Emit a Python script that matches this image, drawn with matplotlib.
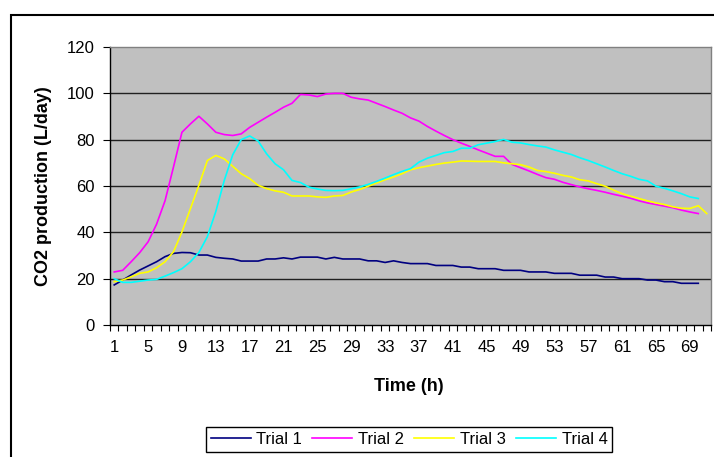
import numpy as np
import matplotlib
matplotlib.use("Agg")
import matplotlib.pyplot as plt
from matplotlib.patches import Rectangle

# CO2 production per trial (L/day), one value per hour
trial1 = [17.3, 19.4, 21.6, 23.7, 25.5, 27.3, 29.5, 30.9, 31.3, 31.2,
          30.2, 30.2, 29.2, 28.8, 28.5, 27.6, 27.6, 27.6, 28.5, 28.5,
          29.0, 28.5, 29.3, 29.3, 29.3, 28.5, 29.2, 28.5, 28.5, 28.5,
          27.7, 27.7, 27.0, 27.7, 27.0, 26.5, 26.5, 26.5, 25.7, 25.7,
          25.7, 25.0, 25.0, 24.3, 24.3, 24.3, 23.6, 23.6, 23.6, 22.9,
          22.9, 22.9, 22.3, 22.3, 22.3, 21.5, 21.5, 21.5, 20.7, 20.7,
          20.0, 20.0, 20.0, 19.4, 19.4, 18.7, 18.7, 18.0, 18.0, 18.0]
trial2 = [22.9, 23.6, 27.3, 31.2, 35.9, 43.5, 53.6, 68.2, 83.2, 86.8,
          90.1, 86.8, 83.2, 82.2, 81.8, 82.5, 85.3, 87.5, 89.7, 91.8,
          94.0, 95.7, 99.5, 99.3, 98.6, 99.7, 100.0, 100.0, 98.3, 97.6,
          97.1, 95.7, 94.3, 92.8, 91.4, 89.4, 88.0, 85.7, 83.7, 81.8,
          80.0, 78.5, 77.1, 75.6, 74.2, 72.8, 72.8, 69.3, 67.9, 66.5,
          65.0, 63.6, 62.9, 61.6, 60.6, 59.6, 58.8, 58.1, 57.3, 56.4,
          55.6, 54.7, 53.6, 52.7, 52.0, 51.3, 50.6, 49.6, 48.8, 48.1]
trial3 = [18.7, 19.4, 20.8, 22.3, 22.9, 24.7, 27.3, 31.6, 40.2, 50.2,
          60.3, 71.0, 73.2, 71.7, 68.5, 65.3, 63.2, 60.3, 58.9, 57.9,
          57.3, 55.7, 55.7, 55.7, 55.3, 55.1, 55.7, 55.9, 57.4, 58.5,
          59.9, 61.3, 62.7, 63.9, 65.3, 67.0, 67.9, 68.6, 69.3, 69.9,
          70.3, 70.8, 70.7, 70.6, 70.6, 70.6, 70.0, 69.6, 69.2, 68.2,
          66.7, 66.2, 65.5, 64.6, 63.9, 62.7, 62.2, 61.0, 59.9, 58.2,
          56.7, 55.6, 54.6, 53.6, 52.7, 52.0, 51.0, 50.4, 50.3, 51.5,
          48.1]
trial4 = [20.0, 18.4, 18.4, 18.9, 19.4, 19.7, 21.1, 22.6, 24.3, 27.3,
          31.3, 38.1, 49.0, 62.4, 73.5, 80.0, 81.6, 79.4, 73.9, 69.6,
          67.0, 62.4, 61.5, 59.5, 58.7, 58.1, 58.0, 58.1, 58.8, 59.6,
          60.7, 62.0, 63.4, 64.9, 66.3, 67.5, 70.3, 72.0, 73.2, 74.4,
          74.9, 76.3, 76.3, 77.8, 78.5, 79.2, 80.1, 78.9, 78.6, 77.9,
          77.3, 76.8, 75.6, 74.6, 73.6, 72.2, 71.0, 69.6, 68.2, 66.7,
          65.3, 64.2, 62.9, 62.2, 59.9, 59.0, 57.9, 56.7, 55.3, 54.6]

series = [("Trial 1", trial1, "#000080"),
          ("Trial 2", trial2, "#FF00FF"),
          ("Trial 3", trial3, "#FFFF00"),
          ("Trial 4", trial4, "#00FFFF")]

plt.rcParams['font.family'] = ['Liberation Sans', 'DejaVu Sans']

W, H = 714, 457
fig = plt.figure(figsize=(W / 100, H / 100), dpi=100)
ax = fig.add_axes([110 / W, 1 - 325 / H, 601 / W, 278 / H])
ax.set_facecolor("#C0C0C0")

for y in range(20, 120, 20):
    ax.axhline(y, color="#202020", lw=1.0, zorder=1)

for name, vals, col in series:
    hours = np.arange(1, len(vals) + 1)
    ax.plot(hours, vals, color=col, lw=1.2, label=name, zorder=3)

ax.set_xlim(0.5, 71.5)
ax.set_ylim(0, 120)

ax.set_xticks(range(1, 72, 4))
ax.set_xticklabels([str(i) for i in range(1, 72, 4)])
ax.set_xticks(np.arange(0.5, 72, 1), minor=True)
ax.tick_params(axis="x", which="major", length=0, pad=11, labelsize=12)
ax.tick_params(axis="x", which="minor", length=4, direction="out", width=0.8)
ax.set_yticks(range(0, 121, 20))
ax.tick_params(axis="y", length=5, direction="out", width=0.8, pad=6, labelsize=12)

for s in ["left", "bottom"]:
    ax.spines[s].set_color("black")
    ax.spines[s].set_linewidth(1.0)
for s in ["top", "right"]:
    ax.spines[s].set_color("#808080")
    ax.spines[s].set_linewidth(1.0)

ax.set_ylabel("CO2 production (L/day)", fontsize=13, fontweight="bold")
ax.yaxis.set_label_coords(-0.097, 0.5)
ax.set_xlabel("Time (h)", fontsize=13, fontweight="bold")
ax.xaxis.set_label_coords(0.497, -0.19)

# outer chart border (cut off at right and bottom)
fig.patches.append(Rectangle((11.5 / W, -0.2), 1.0, 1.2 - 14.5 / H,
                             transform=fig.transFigure, fill=False,
                             edgecolor="black", lw=1.5))

fig.legend(loc="center", bbox_to_anchor=(409 / W, 1 - 439 / H), ncol=4,
           fontsize=12, frameon=True, fancybox=False, edgecolor="black",
           framealpha=1, handlelength=2.4, handletextpad=0.35,
           columnspacing=0.6, borderpad=0.3)

fig.savefig("out.png", dpi=100)
